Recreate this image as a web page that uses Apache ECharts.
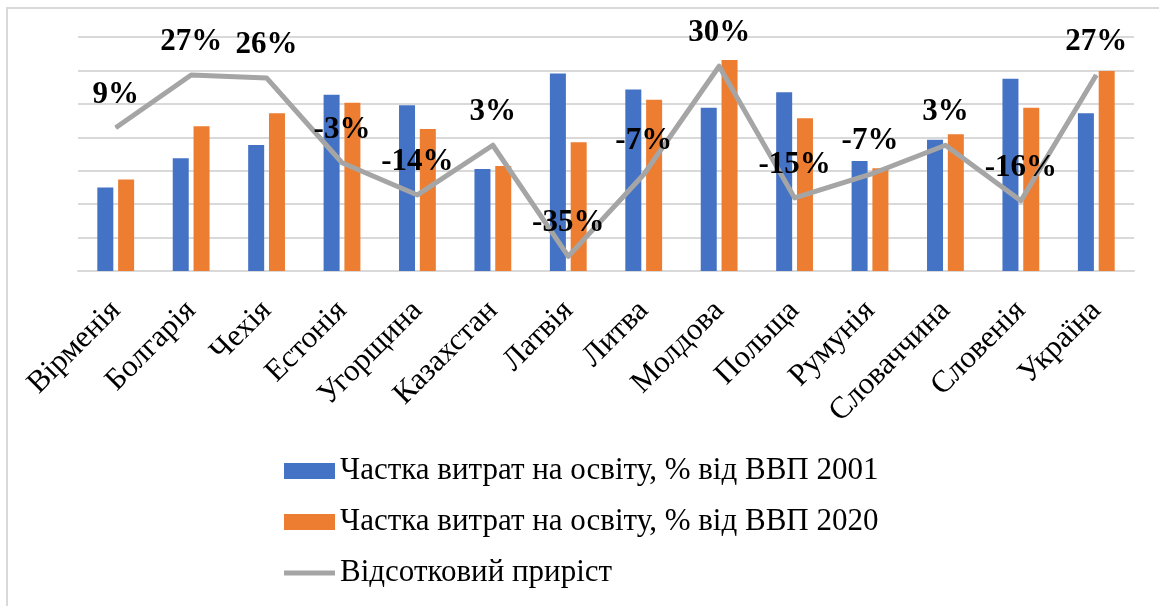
<!DOCTYPE html>
<html>
<head>
<meta charset="utf-8">
<script src="https://cdn.jsdelivr.net/npm/echarts@6/dist/echarts.min.js"></script>
<style>
html,body{margin:0;padding:0;background:#fff;}
#chart{width:1159px;height:606px;}
</style>
</head>
<body>
<div id="chart"></div>
<script>
var categories = ['Вірменія','Болгарія','Чехія','Естонія','Угорщина','Казахстан','Латвія','Литва','Молдова','Польща','Румунія','Словаччина','Словенія','Україна'];
var share2001 = [2.50, 3.37, 3.77, 5.27, 4.96, 3.05, 5.91, 5.43, 4.88, 5.35, 3.29, 3.93, 5.75, 4.72];
var share2020 = [2.74, 4.33, 4.72, 5.03, 4.25, 3.14, 3.85, 5.12, 6.31, 4.57, 3.07, 4.09, 4.88, 5.98];
var growth = [0.09, 0.27, 0.26, -0.03, -0.14, 0.03, -0.35, -0.07, 0.30, -0.15, -0.07, 0.03, -0.16, 0.27];
var seriesNames = ['Частка витрат на освіту, % від ВВП 2001','Частка витрат на освіту, % від ВВП 2020','Відсотковий приріст'];

var FONT = '"Liberation Serif", "Times New Roman", serif';
var chart = echarts.init(document.getElementById('chart'), null, {renderer:'canvas'});
chart.setOption({
  animation: false,
  backgroundColor: '#fff',
  graphic: [{
    type: 'polyline',
    shape: { points: [[7, 606], [7, 8], [1159, 8]] },
    style: { stroke: '#d9d9d9', lineWidth: 2, fill: null },
    silent: true
  }],
  grid: { left: 78, right: 25, top: 37, bottom: 335, containLabel: false },
  legend: {
    orient: 'vertical',
    left: 284,
    top: 454,
    padding: 0,
    itemWidth: 51,
    itemHeight: 16,
    itemGap: 17,
    symbolKeepAspect: true,
    textStyle: { fontFamily: FONT, fontSize: 31, color: '#000', lineHeight: 34 },
    data: [
      { name: seriesNames[0], icon: 'rect' },
      { name: seriesNames[1], icon: 'rect' },
      { name: seriesNames[2], icon: 'path://M0,0 H51 V5 H0 Z', itemStyle: { color: '#a5a5a5' } }
    ]
  },
  xAxis: {
    type: 'category',
    data: categories,
    axisTick: { show: false },
    axisLine: { lineStyle: { color: '#d9d9d9', width: 2 } },
    axisLabel: {
      interval: 0,
      rotate: 45,
      margin: 35,
      fontFamily: FONT,
      fontSize: 31,
      color: '#000'
    }
  },
  yAxis: [{
    type: 'value',
    min: 0, max: 7, interval: 1,
    axisLabel: { show: false },
    axisLine: { show: false },
    axisTick: { show: false },
    splitLine: { lineStyle: { color: '#d9d9d9', width: 2 } }
  }, {
    type: 'value',
    min: -0.4, max: 0.4,
    show: false,
    splitLine: { show: false }
  }],
  series: [{
    name: seriesNames[0],
    type: 'bar',
    data: share2001,
    barWidth: 16,
    barGap: '30%',
    itemStyle: { color: '#4472c4' }
  }, {
    name: seriesNames[1],
    type: 'bar',
    data: share2020,
    barWidth: 16,
    barGap: '30%',
    itemStyle: { color: '#ed7d31' }
  }, {
    name: seriesNames[2],
    type: 'line',
    yAxisIndex: 1,
    data: growth,
    symbol: 'circle',
    symbolSize: 1,
    showSymbol: true,
    z: 5,
    lineStyle: { color: '#a5a5a5', width: 5, join: 'round' },
    itemStyle: { color: '#a5a5a5' },
    labelLayout: { hideOverlap: false },
    label: {
      show: true,
      position: 'top',
      distance: 17,
      fontFamily: FONT,
      fontWeight: 'bold',
      fontSize: 31,
      color: '#000',
      formatter: function (p) { return Math.round(p.value * 100) + '%'; }
    }
  }]
});
</script>
</body>
</html>
